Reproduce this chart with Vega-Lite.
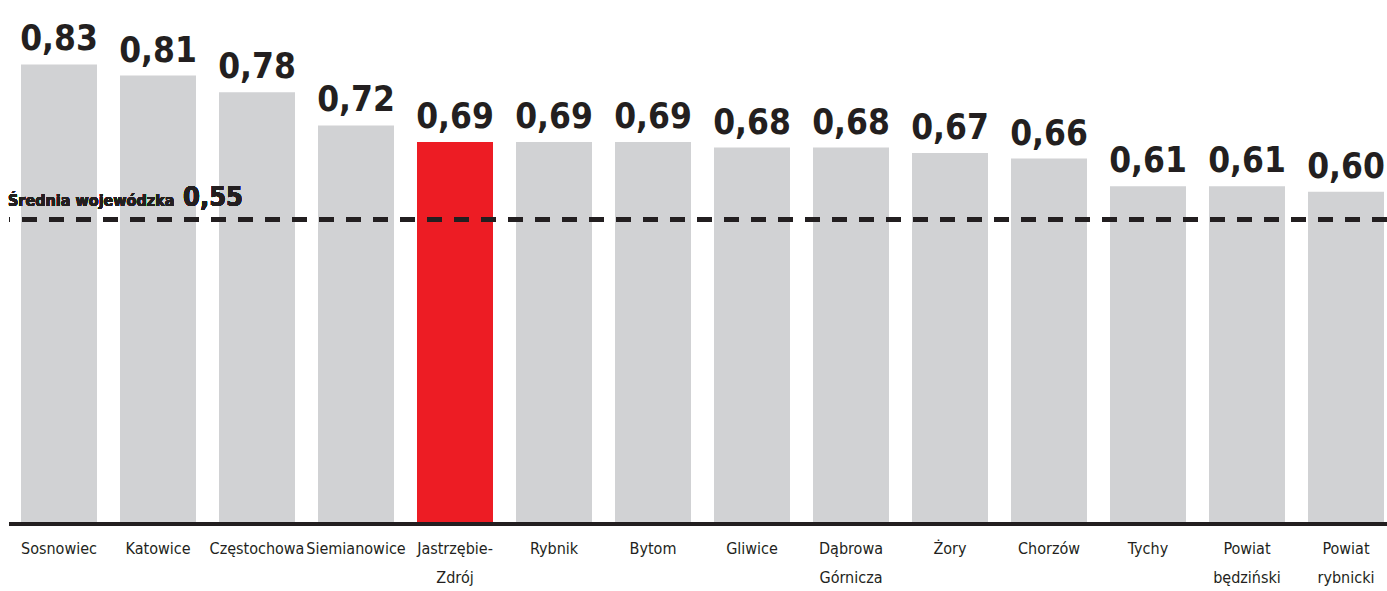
{
  "$schema": "https://vega.github.io/schema/vega-lite/v6.json",
  "width": 1378,
  "height": 524,
  "autosize": "none",
  "padding": {"left": 9, "top": 0, "right": 0, "bottom": 67},
  "background": "white",
  "config": {
    "view": {"stroke": null},
    "locale": {"number": {"decimal": ",", "thousands": " ", "grouping": [3], "currency": ["", " zł"]}}
  },
  "data": {
    "values": [
      {"city": "Sosnowiec", "value": 0.83},
      {"city": "Katowice", "value": 0.81},
      {"city": "Częstochowa", "value": 0.78},
      {"city": "Siemianowice", "value": 0.72},
      {"city": "Jastrzębie-Zdrój", "value": 0.69},
      {"city": "Rybnik", "value": 0.69},
      {"city": "Bytom", "value": 0.69},
      {"city": "Gliwice", "value": 0.68},
      {"city": "Dąbrowa Górnicza", "value": 0.68},
      {"city": "Żory", "value": 0.67},
      {"city": "Chorzów", "value": 0.66},
      {"city": "Tychy", "value": 0.61},
      {"city": "Powiat będziński", "value": 0.61},
      {"city": "Powiat rybnicki", "value": 0.60}
    ]
  },
  "layer": [
    {
      "mark": {"type": "bar"},
      "encoding": {
        "x": {
          "field": "city",
          "type": "nominal",
          "sort": null,
          "scale": {"range": [12, 1375], "paddingInner": 0.2323, "paddingOuter": 0},
          "axis": {
            "title": null,
            "domain": false,
            "ticks": false,
            "labelAngle": 0,
            "labelFont": "DejaVu Sans Condensed",
            "labelFontSize": 16,
            "labelColor": "#231f20",
            "labelPadding": 16,
            "labelLineHeight": 29,
            "labelOverlap": false,
            "labelExpr": "split(replace(datum.label, '-', '- '), ' ')"
          }
        },
        "y": {
          "field": "value",
          "type": "quantitative",
          "scale": {"domain": [0, 0.9465], "nice": false, "zero": true},
          "axis": null
        },
        "color": {
          "condition": {"test": "datum.city === 'Jastrzębie-Zdrój'", "value": "#ed1c24"},
          "value": "#d1d2d4"
        }
      }
    },
    {
      "mark": {
        "type": "text",
        "baseline": "alphabetic",
        "align": "center",
        "dy": -14,
        "font": "DejaVu Sans Condensed",
        "fontWeight": "bold",
        "fontSize": 35,
        "color": "#231f20"
      },
      "encoding": {
        "x": {"field": "city", "type": "nominal", "sort": null},
        "y": {"field": "value", "type": "quantitative"},
        "text": {"field": "value", "type": "quantitative", "format": ".2f"}
      }
    },
    {
      "mark": {"type": "rule", "color": "#231f20", "strokeWidth": 3},
      "encoding": {"y": {"datum": 0}}
    },
    {
      "mark": {"type": "rule", "color": "#231f20", "strokeWidth": 4.5, "strokeDash": [15, 12]},
      "encoding": {"y": {"datum": 0.55}}
    },
    {
      "mark": {
        "type": "text",
        "baseline": "alphabetic",
        "align": "left",
        "dx": -13,
        "dy": -14,
        "font": "DejaVu Sans Condensed",
        "fontWeight": "bold",
        "fontSize": 16,
        "color": "#231f20"
      },
      "encoding": {
        "x": {"datum": "Sosnowiec", "bandPosition": 0},
        "y": {"datum": 0.55},
        "text": {"value": "Średnia wojewódzka"}
      }
    },
    {
      "mark": {
        "type": "text",
        "baseline": "alphabetic",
        "align": "left",
        "dx": 162,
        "dy": -14,
        "font": "DejaVu Sans Condensed",
        "fontWeight": "bold",
        "fontSize": 27,
        "color": "#231f20"
      },
      "encoding": {
        "x": {"datum": "Sosnowiec", "bandPosition": 0},
        "y": {"datum": 0.55},
        "text": {"datum": 0.55, "format": ".2f"}
      }
    }
  ]
}
